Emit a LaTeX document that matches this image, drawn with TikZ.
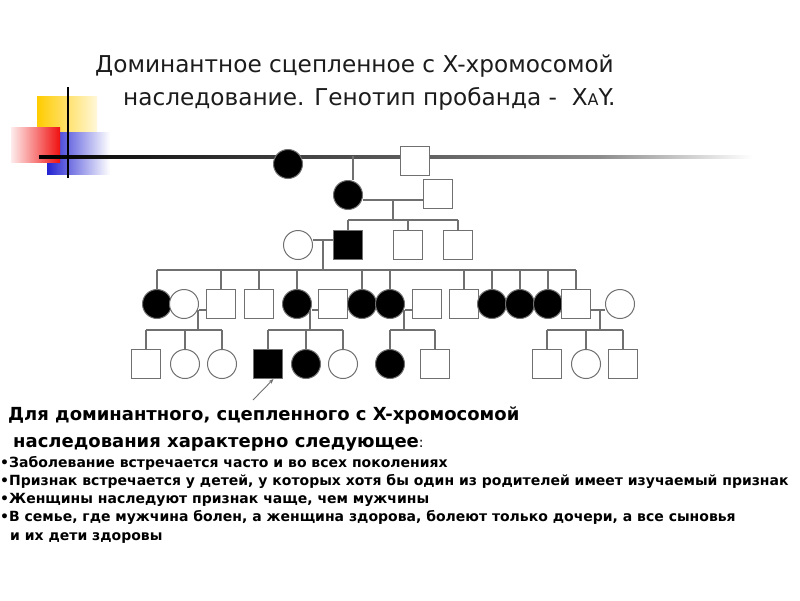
\documentclass[tikz,border=0pt]{standalone}
\usepackage{fontspec}
\setmainfont{DejaVu Sans}
\usetikzlibrary{arrows.meta}

\definecolor{linegray}{HTML}{707070}
\definecolor{slidegold}{HTML}{FFCC00}
\definecolor{slidered}{HTML}{F01010}
\definecolor{slideblue}{HTML}{2323D2}
\definecolor{titleink}{HTML}{1C1C1C}

\tikzset{
  fem/.style={circle, draw=linegray, line width=1pt, fill=white, inner sep=0pt, minimum size=29},
  mal/.style={rectangle, draw=linegray, line width=1pt, fill=white, inner sep=0pt, minimum size=29},
  aff/.style={fill=black},
  link/.style={draw=linegray, line width=1.1pt},
  heading/.style={anchor=base west, inner sep=0pt, text=titleink, font=\fontsize{23.2}{27}\selectfont},
  note/.style={anchor=base west, inner sep=0pt, font=\bfseries\fontsize{14}{16}\selectfont},
  notehead/.style={note, font=\bfseries\fontsize{18}{21}\selectfont},
}

\begin{document}
\begin{tikzpicture}[x=1pt, y=-1pt]
  \useasboundingbox[fill=white] (0,0) rectangle (800,600);

  % slide decoration
  \shade[left color=slidegold, right color=slidegold!15] (37,96) rectangle (97,150);
  \shade[left color=slideblue, right color=white] (47,132) rectangle (110,174);
  \shade[left color=slidered!8, right color=slidered] (11,127) rectangle (60,162);
  \shade[left color=black, right color=black!75] (39,155.5) rectangle (290,158.5);
  \shade[left color=black!75, right color=black!45] (290,155.5) rectangle (600,158.5);
  \shade[left color=black!45, right color=white] (600,155.5) rectangle (752,158.5);
  \draw[line width=2pt] (68,87) -- (68,178);

  % title
  \node[heading] (t1) at (95,72) {Доминантное сцепленное с X-хромосомой};
  \node[heading] (t2) at (123,105) {наследование. Генотип пробанда -\ \ X{\fontsize{16}{18}\selectfont A}Y.};

  % I
  \node[fem, aff] (I1) at (288,164) {};
  \node[mal]      (I2) at (415,161) {};
  % II
  \node[fem, aff] (II1) at (348,195) {};
  \node[mal]      (II2) at (438,194) {};
  % III
  \node[fem]      (III1) at (298,245) {};
  \node[mal, aff] (III2) at (348,245) {};
  \node[mal]      (III3) at (408,245) {};
  \node[mal]      (III4) at (458,245) {};

  \begin{scope}[every node/.append style={minimum size=27}]
    % IV
    \node[fem, aff] (IV1) at (157,304) {};
    \node[fem]      (IV2) at (184,304) {};
    \node[mal]      (IV3) at (221,304) {};
    \node[mal]      (IV4) at (259,304) {};
    \node[fem, aff] (IV5) at (297,304) {};
    \node[mal]      (IV6) at (333,304) {};
    \node[fem, aff] (IV7) at (362,304) {};
    \node[fem, aff] (IV8) at (390,304) {};
    \node[mal]      (IV9) at (427,304) {};
    \node[mal]      (IV10) at (464,304) {};
    \node[fem, aff] (IV11) at (492,304) {};
    \node[fem, aff] (IV12) at (520,304) {};
    \node[fem, aff] (IV13) at (548,304) {};
    \node[mal]      (IV14) at (576,304) {};
    \node[fem]      (IV15) at (620,304) {};
    % V
    \node[mal]      (V1) at (146,364) {};
    \node[fem]      (V2) at (185,364) {};
    \node[fem]      (V3) at (222,364) {};
    \node[mal, aff] (V4) at (268,364) {};
    \node[fem, aff] (V5) at (306,364) {};
    \node[fem]      (V6) at (343,364) {};
    \node[fem, aff] (V7) at (390,364) {};
    \node[mal]      (V8) at (435,364) {};
    \node[mal]      (V9) at (547,364) {};
    \node[fem]      (V10) at (586,364) {};
    \node[mal]      (V11) at (623,364) {};
  \end{scope}

  % couples and lines of descent
  \coordinate (mI) at (353,156);
  \coordinate (mII) at (393,200);
  \coordinate (sIII) at (393,220);
  \coordinate (mIII) at (323,240);
  \coordinate (sIV) at (323,270);
  \path[link]
    (mI) edge (II1.north -| mI)
    (II1.east |- mII) edge (II2.west |- mII)
    (mII) edge (sIII)
    (III2.north |- sIII) edge (III4.north |- sIII)
    (III1.east |- mIII) edge (III2.west |- mIII)
    (mIII) edge (sIV)
    (IV1.north |- sIV) edge (IV14.north |- sIV);
  \foreach \k in {III2,III3,III4}
    \path[link] (\k.north |- sIII) edge (\k.north);
  \foreach \k in {IV1,IV3,IV4,IV5,IV7,IV8,IV10,IV11,IV12,IV13,IV14}
    \path[link] (\k.north |- sIV) edge (\k.north);

  % families of generation V
  \foreach \w/\h/\x/\a/\b/\kids in {
      IV2/IV3/198/V1/V3/{V1,V2,V3},
      IV5/IV6/310/V4/V6/{V4,V5,V6},
      IV8/IV9/404/V7/V8/{V7,V8},
      IV14/IV15/600/V9/V11/{V9,V10,V11}} {
    \coordinate (m\w) at (\x,310);
    \coordinate (s\w) at (\x,330);
    \path[link]
      (\w.east |- m\w) edge (\h.west |- m\w)
      (m\w) edge (s\w)
      (\a.north |- s\w) edge (\b.north |- s\w);
    \foreach \k in \kids
      \path[link] (\k.north |- s\w) edge (\k.north);
  }

  % proband
  \coordinate (pb) at (253,400);
  \draw[linegray, line width=0.9pt, -{Stealth[length=5pt, width=4pt]}] (pb) -- (V4.-70);

  % notes
  \node[notehead] (n1) at (8,420) {Для доминантного, сцепленного с X-хромосомой};
  \node[notehead] (n2) at (13,447) {наследования характерно следующее{\mdseries\fontsize{14}{16}\selectfont:}};
  \node[note] (b1) at (0,467) {•Заболевание встречается часто и во всех поколениях};
  \node[note] (b2) at (0,485) {•Признак встречается у детей, у которых хотя бы один из родителей имеет изучаемый признак};
  \node[note] (b3) at (0,503) {•Женщины наследуют признак чаще, чем мужчины};
  \node[note] (b4) at (0,521) {•В семье, где мужчина болен, а женщина здорова, болеют только дочери, а все сыновья};
  \node[note] (b5) at (10,540) {и их дети здоровы};
\end{tikzpicture}
\end{document}
